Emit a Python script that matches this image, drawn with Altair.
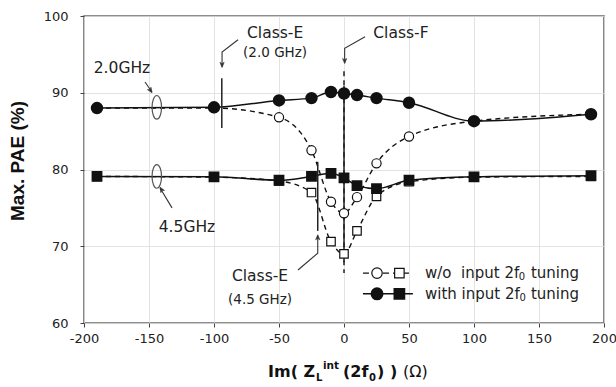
import altair as alt
import pandas as pd

# ---------------- data ----------------
x_vals = [-190, -100, -50, -25, -10, 0, 10, 25, 50, 100, 190]
pae_20_with = [88.0, 88.1, 89.0, 89.3, 90.1, 89.9, 89.7, 89.3, 88.7, 86.3, 87.2]
pae_20_wo = [88.0, 88.0, 86.8, 82.5, 75.8, 74.3, 76.4, 80.8, 84.3, 86.3, 87.2]
pae_45_with = [79.1, 79.05, 78.6, 79.1, 79.5, 78.9, 77.9, 77.5, 78.6, 79.05, 79.2]
pae_45_wo = [79.1, 79.0, 78.5, 77.0, 70.6, 69.0, 72.0, 76.5, 78.4, 79.0, 79.1]

x_ticks = [-200, -150, -100, -50, 0, 50, 100, 150, 200]
y_ticks = [60, 70, 80, 90, 100]

# annotation texts (data coordinates)
ann_big_text = ["2.0GHz", "4.5GHz", "Class-E", "Class-F", "Class-E"]
ann_big_x = [-170.8, -120.8, -53.0, 43.8, -64.6]
ann_big_y = [93.2, 72.5, 97.8, 97.8, 66.1]
ann_small_text = ["(2.0 GHz)", "(4.5 GHz)"]
ann_small_x = [-53.0, -64.6]
ann_small_y = [95.2, 63.0]

# arrows (polyline points) and arrowheads
arrow_id = [0, 0, 0, 1, 1, 1, 2, 2, 2, 3, 3, 4, 4]
arrow_x = [-81.5, -93.8, -93.8, 16.2, 0.5, 0.5, -35.4, -20.2, -20.2, -153.1, -147.7, -132.3, -141.5]
arrow_y = [96.9, 95.3, 93.4, 97.3, 95.8, 93.9, 66.9, 69.1, 71.4, 91.4, 90.1, 75.0, 77.6]
head_x = [-93.8, 0.5, -20.2, -147.7, -141.5]
head_y = [93.3, 93.8, 71.5, 90.0, 77.7]
head_angle = [180, 180, 0, 147, 329]

# vertical marker lines
mark_x = [-94.0, -20.2, 0.0]
mark_y1 = [91.9, 81.0, 90.9]
mark_y2 = [85.4, 72.0, 67.9]
dash_mark_x = [0.0]
dash_mark_y1 = [92.8]
dash_mark_y2 = [66.5]

# ellipses grouping series
ell_x = [-144.0, -144.0]
ell_y = [88.1, 79.1]

# legend (data coordinates)
leg_line_x = [14.6, 53.0]
leg_y = [66.5, 63.8]
leg_circ_x = 25.4
leg_sq_x = 42.6
leg_text_main = ["w/o\u00a0\u00a0input 2f", "with input 2f"]
leg_text_x = 62.3
leg_sub_x = [134.4, 135.0]
leg_tail_x = 143.8

# ---------------- helpers ----------------
xs = alt.Scale(domain=[-200, 200], nice=False, zero=False)
ys = alt.Scale(domain=[60, 100], nice=False, zero=False)

X_AXIS = alt.Axis(values=x_ticks, title=None, grid=True, gridColor="#dcdcdc", gridWidth=0.8,
                  domain=False, tickColor="#444", tickSize=4, labelFont="DejaVu Sans",
                  labelFontSize=13, labelColor="#222", labelPadding=5, labelFlush=False,
                  labelOverlap=False, labelExpr="'' + datum.value")
Y_AXIS = alt.Axis(values=y_ticks, title=None, grid=True, gridColor="#dcdcdc", gridWidth=0.8,
                  domain=False, tickColor="#444", tickSize=4, labelFont="DejaVu Sans",
                  labelFontSize=13, labelColor="#222", labelPadding=12,
                  labelOverlap=False, labelExpr="'' + datum.value")


def X(f="x"):
    return alt.X(f"{f}:Q", scale=xs, axis=X_AXIS)


def Y(f="y"):
    return alt.Y(f"{f}:Q", scale=ys, axis=Y_AXIS)


def series_df(vals):
    return pd.DataFrame({"x": x_vals, "y": vals})


d20w = series_df(pae_20_with)
d20o = series_df(pae_20_wo)
d45w = series_df(pae_45_with)
d45o = series_df(pae_45_wo)

INK = "#111111"

layers = []

# base layer carrying axes
layers.append(alt.Chart(d20w).mark_point(opacity=0).encode(x=X(), y=Y()))

# dashed lines (w/o)
for d in (d20o, d45o):
    layers.append(alt.Chart(d).mark_line(color=INK, strokeWidth=1.4, strokeDash=[5, 4],
                                         interpolate="monotone").encode(x=X(), y=Y()))
# solid lines (with)
for d in (d20w, d45w):
    layers.append(alt.Chart(d).mark_line(color=INK, strokeWidth=1.5,
                                         interpolate="monotone").encode(x=X(), y=Y()))

# marker vertical lines
mk = pd.DataFrame({"x": mark_x, "y": mark_y1, "y2": mark_y2})
layers.append(alt.Chart(mk).mark_rule(color="#222", strokeWidth=1.5).encode(x=X(), y=Y(), y2="y2:Q"))
dmk = pd.DataFrame({"x": dash_mark_x, "y": dash_mark_y1, "y2": dash_mark_y2})
layers.append(alt.Chart(dmk).mark_rule(color="#222", strokeWidth=1.5, strokeDash=[5, 4]).encode(
    x=X(), y=Y(), y2="y2:Q"))

# open markers
layers.append(alt.Chart(d20o).mark_point(shape="circle", size=85, filled=True, fill="white",
                                         stroke=INK, strokeWidth=1.2, opacity=1).encode(x=X(), y=Y()))
layers.append(alt.Chart(d45o).mark_point(shape="square", size=72, filled=True, fill="white",
                                         stroke=INK, strokeWidth=1.2, opacity=1).encode(x=X(), y=Y()))
# filled markers
layers.append(alt.Chart(d20w).mark_point(shape="circle", size=110, filled=True, fill=INK,
                                         stroke=INK, opacity=1).encode(x=X(), y=Y()))
layers.append(alt.Chart(d45w).mark_point(shape="square", size=78, filled=True, fill=INK,
                                         stroke=INK, opacity=1).encode(x=X(), y=Y()))

# ellipses
ell = pd.DataFrame({"x": ell_x, "y": ell_y})
ELL = "M-0.4,0 A0.4,1 0 1,0 0.4,0 A0.4,1 0 1,0 -0.4,0 Z"
layers.append(alt.Chart(ell).mark_point(shape=ELL, size=560, filled=False, stroke="#555",
                                        strokeWidth=1.2, opacity=1).encode(x=X(), y=Y()))

# arrows
arr = pd.DataFrame({"x": arrow_x, "y": arrow_y, "id": arrow_id, "o": list(range(len(arrow_x)))})
layers.append(alt.Chart(arr).mark_line(color="#333", strokeWidth=1.1).encode(
    x=X(), y=Y(), detail="id:N", order="o:Q"))
hd = pd.DataFrame({"x": head_x, "y": head_y, "a": head_angle})
HEAD = "M0,0 L0.7,1.7 L0,1.2 L-0.7,1.7 Z"
layers.append(alt.Chart(hd).mark_point(shape=HEAD, size=36, filled=True, fill="#333", stroke="#333",
                                       strokeWidth=0.6, opacity=1).encode(
    x=X(), y=Y(), angle=alt.Angle("a:Q", scale=None)))

# annotation texts
ab = pd.DataFrame({"x": ann_big_x, "y": ann_big_y, "t": ann_big_text})
layers.append(alt.Chart(ab).mark_text(font="DejaVu Sans", fontSize=15.5, color="#222",
                                      align="center", baseline="middle").encode(x=X(), y=Y(), text="t:N"))
asm = pd.DataFrame({"x": ann_small_x, "y": ann_small_y, "t": ann_small_text})
layers.append(alt.Chart(asm).mark_text(font="DejaVu Sans", fontSize=13.5, color="#222",
                                       align="center", baseline="middle").encode(x=X(), y=Y(), text="t:N"))

# legend
ll = pd.DataFrame({"x": leg_line_x * 2, "y": [leg_y[0]] * 2 + [leg_y[1]] * 2, "g": [0, 0, 1, 1]})
layers.append(alt.Chart(ll[ll.g == 0]).mark_line(color=INK, strokeWidth=1.4, strokeDash=[6, 4]).encode(
    x=X(), y=Y()))
layers.append(alt.Chart(ll[ll.g == 1]).mark_line(color=INK, strokeWidth=1.5).encode(x=X(), y=Y()))
layers.append(alt.Chart(pd.DataFrame({"x": [leg_circ_x], "y": [leg_y[0]]})).mark_point(
    shape="circle", size=110, filled=True, fill="white", stroke=INK, strokeWidth=1.2, opacity=1).encode(x=X(), y=Y()))
layers.append(alt.Chart(pd.DataFrame({"x": [leg_sq_x], "y": [leg_y[0]]})).mark_point(
    shape="square", size=90, filled=True, fill="white", stroke=INK, strokeWidth=1.2, opacity=1).encode(x=X(), y=Y()))
layers.append(alt.Chart(pd.DataFrame({"x": [leg_circ_x], "y": [leg_y[1]]})).mark_point(
    shape="circle", size=120, filled=True, fill=INK, stroke=INK, opacity=1).encode(x=X(), y=Y()))
layers.append(alt.Chart(pd.DataFrame({"x": [leg_sq_x], "y": [leg_y[1]]})).mark_point(
    shape="square", size=95, filled=True, fill=INK, stroke=INK, opacity=1).encode(x=X(), y=Y()))
lt = pd.DataFrame({"x": [leg_text_x] * 2, "y": leg_y, "t": leg_text_main})
layers.append(alt.Chart(lt).mark_text(font="DejaVu Sans", fontSize=15, color="#222", align="left",
                                      baseline="middle").encode(x=X(), y=Y(), text="t:N"))
ls = pd.DataFrame({"x": leg_sub_x, "y": [v - 0.55 for v in leg_y], "t": ["0", "0"]})
layers.append(alt.Chart(ls).mark_text(font="DejaVu Sans", fontSize=10, color="#222", align="left",
                                      baseline="middle").encode(x=X(), y=Y(), text="t:N"))
ltl = pd.DataFrame({"x": [leg_tail_x] * 2, "y": leg_y, "t": ["tuning", "tuning"]})
layers.append(alt.Chart(ltl).mark_text(font="DejaVu Sans", fontSize=15, color="#222", align="left",
                                       baseline="middle").encode(x=X(), y=Y(), text="t:N"))

# axis titles (pixel positions relative to plot area)
one = pd.DataFrame({"a": [0]})
layers.append(alt.Chart(one).mark_text(font="Liberation Sans", fontSize=19, fontWeight="bold",
                                       color="#111", angle=270, align="center", baseline="middle").encode(
    x=alt.value(-66), y=alt.value(145), text=alt.value("Max. PAE (%)")))

title_parts = [
    ("Im( Z", 268, 377, 16, "bold"),
    ("L", 316, 381, 10, "bold"),
    ("int", 323, 369, 10.5, "bold"),
    ("(2f", 343, 377, 16, "bold"),
    ("0", 369, 381, 10, "bold"),
    (") )", 377, 377, 16, "bold"),
    ("(Ω)", 403, 377, 16, "normal"),
]
for txt, px, py, fs, fw in title_parts:
    layers.append(alt.Chart(one).mark_text(font="DejaVu Sans", fontSize=fs, fontWeight=fw, color="#111",
                                           align="left", baseline="alphabetic").encode(
        x=alt.value(px - 84), y=alt.value(py - 16), text=alt.value(txt)))

chart = alt.layer(*layers).properties(
    width=520, height=307,
    autosize=alt.AutoSizeParams(type="none"),
    padding={"left": 84, "top": 16, "right": 12, "bottom": 64},
    background="white",
).configure_view(stroke="#6a6a6a", strokeWidth=1.6)

chart.save("out.html", embed_options={"renderer": "svg", "actions": False})
